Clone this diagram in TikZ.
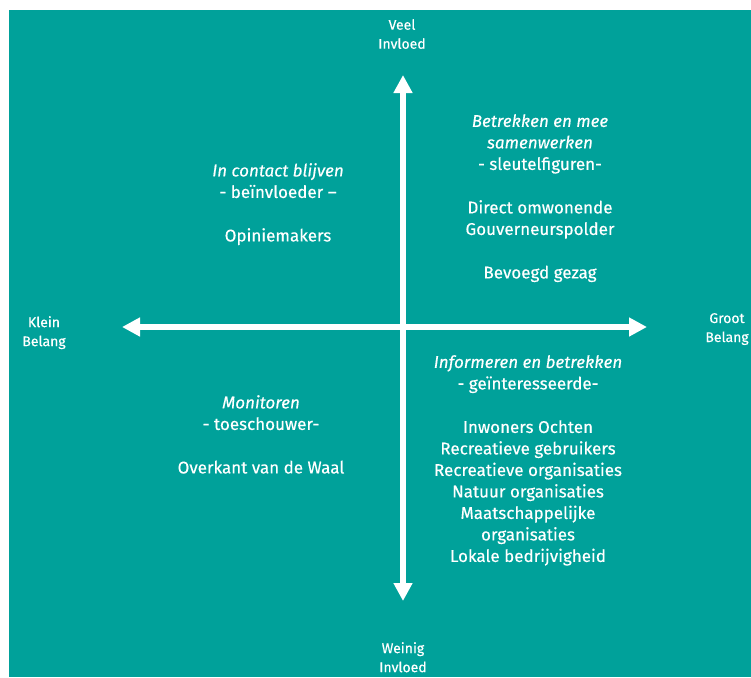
\documentclass[tikz,border=0pt]{standalone}
\usepackage{fontspec}
\setmainfont{Fira Sans}[FakeBold=0.35]
\usetikzlibrary{arrows.meta}
\definecolor{quadteal}{RGB}{0,161,154}
\begin{document}
\begin{tikzpicture}[x=1pt,y=-1pt,
    axis/.style={white, line width=5.5pt,
      {Triangle[length=18pt,width=18pt]}-{Triangle[length=18pt,width=18pt]}},
    axislabel/.style={white, align=center, inner sep=0pt, anchor=north,
      font=\fontsize{14}{19}\selectfont},
    quadtext/.style={white, align=center, inner sep=0pt, anchor=north,
      font=\fontsize{17}{21.5}\selectfont}]
    \useasboundingbox (0,0) rectangle (751,677);
    \fill[white] (0,0) rectangle (751,677);
    \fill[quadteal] (9,10) rectangle (751,677);

    % Axis ends
    \coordinate (veel) at (403,75);
    \coordinate (weinig) at (403,601);
    \coordinate (klein) at (122,327);
    \coordinate (groot) at (647,327);

    % Axes
    \draw[axis] (weinig) -- (veel);
    \draw[axis] (klein) -- (groot);

    % Axis labels
    \node[axislabel] (lveel) at (402,19) {Veel\\Invloed};
    \node[axislabel] (lweinig) at (403,642) {Weinig\\Invloed};
    \node[axislabel] (lklein) at (44,316) {Klein\\Belang};
    \node[axislabel] (lgroot) at (727,313) {Groot\\Belang};

    % Quadrants
    \node[quadtext] (q1) at (278,163) {\textit{In contact blijven}\\
      - beïnvloeder –\\[22pt]
      Opiniemakers};
    \node[quadtext] (q2) at (540,114) {\textit{Betrekken en mee}\\
      \textit{samenwerken}\\
      - sleutelfiguren-\\[22pt]
      Direct omwonende\\
      Gouverneurspolder\\[22pt]
      Bevoegd gezag};
    \node[quadtext] (q3) at (261,395) {\textit{Monitoren}\\
      - toeschouwer-\\[22pt]
      Overkant van de Waal};
    \node[quadtext] (q4) at (528,355) {\textit{Informeren en betrekken}\\
      - geïnteresseerde-\\[22pt]
      Inwoners Ochten\\
      Recreatieve gebruikers\\
      Recreatieve organisaties\\
      Natuur organisaties\\
      Maatschappelijke\\
      organisaties\\
      Lokale bedrijvigheid};
\end{tikzpicture}
\end{document}
